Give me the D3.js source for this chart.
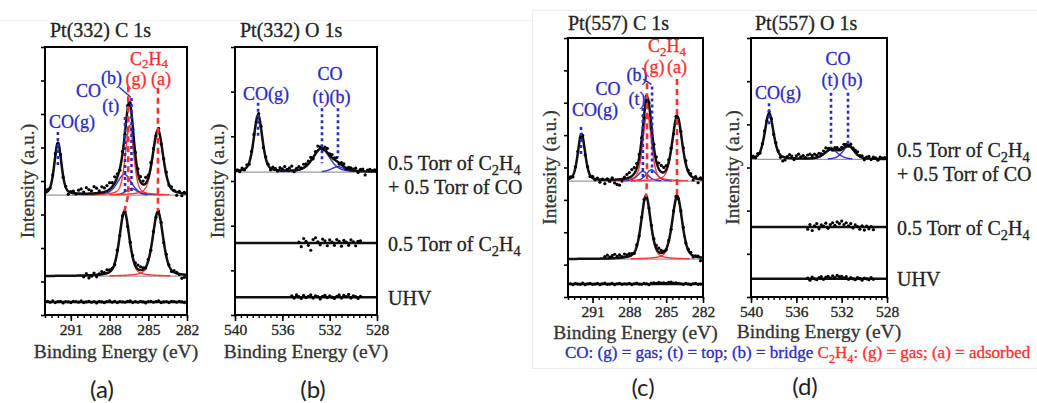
<!DOCTYPE html>
<html>
<head>
<meta charset="utf-8">
<script src="https://cdn.jsdelivr.net/npm/d3@7"></script>
<style>
  html, body { margin: 0; padding: 0; background: #fff; }
  svg { display: block; }
  svg text { font-family: "Liberation Serif", "Times New Roman", serif; stroke-width: 0.3px; paint-order: stroke; }
</style>
</head>
<body>
<svg id="fig" width="1037" height="403"></svg>
<script>
// ---------------- data ----------------
const titles = ["Pt(332) C 1s", "Pt(332) O 1s", "Pt(557) C 1s", "Pt(557) O 1s"];
const ticksC = [291, 288, 285, 282];
const ticksO = [540, 536, 532, 528];
const conditions = ["0.5 Torr of C_2H_4", "+ 0.5 Torr of CO", "0.5 Torr of C_2H_4", "UHV"];

// fitted components: [species, centre (eV), height (a.u.), FWHM (eV)]
const compA_top = [["CO(g)", 292.0, 1.55, 0.65], ["CO(t)", 286.85, 0.62, 1.3], ["CO(b)", 286.3, 0.2, 1.0],
                   ["C2H4(g)", 286.45, 2.08, 0.75], ["C2H4(a)", 284.25, 1.9, 0.95]];
const compA_mid = [["C2H4(g)", 286.85, 1.9, 0.9], ["C2H4(a)", 284.25, 1.9, 0.95]];
const compB_top = [["CO(g)", 538.05, 1.27, 0.85], ["CO(t)", 532.7, 0.52, 1.7], ["CO(b)", 531.3, 0.12, 1.3]];
const compC_top = [["CO(g)", 291.9, 1.45, 0.7], ["CO(t)", 286.9, 0.3, 1.0], ["CO(b)", 286.2, 0.35, 1.0],
                   ["C2H4(g)", 286.55, 2.1, 0.8], ["C2H4(a)", 284.1, 1.97, 0.95]];
const compC_mid = [["C2H4(g)", 286.65, 1.93, 0.9], ["C2H4(a)", 284.1, 1.93, 0.95]];
const compD_top = [["CO(g)", 538.4, 1.06, 0.9], ["CO(t)", 532.9, 0.22, 1.4], ["CO(b)", 531.4, 0.3, 1.2]];

// vertical offsets of the stacked spectra (top, middle, UHV)
const offsetsA = [3.58, 1.16, 0.39];
const offsetsB = [3.2, 1.61, 0.4];
const offsetsC = [3.58, 1.17, 0.4];
const offsetsD = [3.19, 1.62, 0.42];

// first binding energy of each acquired window (step 0.2 eV)
const windowC = [292.8, 290.0, 292.8];
const windowB = [539.8, 534.6, 535.2];
const windowD = [539.8, 535.0, 535.0];

// measured points, as deviation from the fit envelope (a.u.)
const resA_top = [0.05,-0.03,0.02,0.06,-0.04,0.03,-0.05,0.02,-0.09,0.03,
  0.06,-0.02,0.10,0.14,0.05,0.18,0.12,0.08,0.20,0.15,
  0.06,0.17,0.12,0.16,0.20,0.12,0.18,0.10,-0.05,0.08,
  -0.06,0.10,0.04,-0.08,0.06,0.12,0.15,0.10,0.18,0.08,
  0.12,0.05,-0.04,0.07,-0.05,0.04,0.08,-0.03,0.06,0.02,
  -0.10,0.04,-0.08,0.03];
const resA_mid = [-0.04,0.05,-0.08,-0.03,0.06,-0.06,0.02,0.08,0.04,0.10,
  0.06,0.03,-0.04,0.05,-0.03,0.04,0.02,-0.05,0.03,0.06,
  0.08,0.12,0.10,0.05,-0.03,0.04,-0.04,0.03,-0.02,0.04,
  0.05,-0.03,0.06,0.02,-0.04,0.05,0.03,-0.02,-0.12,-0.08];
const resA_uhv = [0.02,-0.01,0.03,-0.02,0.01,0.02,-0.03,0.01,0.0,-0.02,
  0.02,0.01,-0.01,0.03,-0.02,0.0,0.02,-0.01,0.01,-0.03,
  0.02,0.0,-0.02,0.01,0.03,-0.01,0.02,-0.02,0.01,0.0,
  -0.01,0.02,0.03,-0.02,0.01,-0.01,0.02,0.0,-0.03,0.01,
  0.02,-0.01,0.01,0.03,-0.02,0.0,0.01,-0.02,0.02,0.01,
  -0.01,0.02,0.0,-0.02];
const resB_top = [0.02,-0.03,0.04,-0.02,0.05,-0.04,0.03,0.06,-0.03,0.05,
  0.04,-0.05,0.03,0.02,-0.04,0.05,0.03,-0.02,0.06,0.04,
  0.09,0.03,0.06,0.10,-0.03,0.04,0.07,0.02,0.08,0.05,
  0.06,0.08,-0.03,0.05,0.10,0.04,-0.04,0.06,0.09,0.03,
  0.07,0.04,0.08,-0.03,0.05,0.06,-0.02,0.04,0.05,0.03,
  0.06,-0.03,0.04,0.05,-0.08,0.03,0.05,0.02,0.04];
const resB_mid = [0.02,-0.08,0.10,0.04,-0.05,-0.16,0.08,0.12,0.03,-0.04,
  0.09,0.05,-0.06,0.07,0.02,-0.05,0.08,0.04,-0.07,0.06,
  0.02,-0.05,0.07,0.03,-0.06,0.04,0.05];
const resB_uhv = [0.03,-0.02,0.05,0.01,-0.03,0.04,-0.01,0.02,0.05,-0.02,
  0.03,0.01,-0.04,0.02,0.04,-0.01,0.03,0.0,-0.03,0.02,
  0.05,-0.02,0.04,0.01,0.06,-0.02,0.03,0.01,-0.03,0.02];
const resC_top = [0.04,-0.05,0.03,0.05,-0.03,0.04,-0.06,0.03,-0.04,0.05,
  -0.03,0.04,-0.08,0.02,-0.12,0.03,-0.05,0.06,-0.10,-0.15,
  -0.18,-0.06,0.05,0.12,0.15,0.20,0.18,0.14,0.10,0.05,
  -0.05,0.08,0.05,-0.08,0.10,0.14,0.18,0.20,0.15,0.12,
  0.08,0.04,-0.05,0.06,-0.04,0.05,0.08,0.10,0.04,0.06,
  -0.08,0.05,-0.12,0.04];
const resC_mid = [0.06,0.10,0.04,0.08,0.12,0.05,0.09,0.03,0.10,0.06,
  0.08,0.04,-0.03,0.05,-0.02,0.03,0.05,-0.04,0.02,0.04,
  0.06,0.10,0.12,0.08,0.02,-0.03,0.04,-0.02,0.03,0.05,
  -0.03,0.04,0.06,-0.02,0.03,0.05,-0.04,0.02,0.03,-0.10];
const resC_uhv = [0.01,-0.02,0.02,0.0,-0.01,0.03,-0.02,0.01,0.02,-0.01,
  0.0,0.02,-0.02,0.01,0.03,-0.01,0.0,0.02,-0.02,0.01,
  0.02,-0.01,0.01,0.0,0.02,-0.02,0.01,0.03,0.0,-0.01,
  0.02,0.01,-0.02,0.03,0.04,0.02,0.05,0.03,0.04,0.02,
  0.05,0.06,0.03,0.04,0.02,0.01,-0.01,0.02,0.0,-0.02,
  0.01,0.02,-0.01,0.0];
const resD_top = [0.03,-0.02,0.04,-0.03,0.02,0.05,-0.02,0.04,0.03,-0.03,
  0.04,0.02,-0.05,-0.10,-0.06,0.03,0.08,0.05,-0.03,0.06,
  0.10,0.04,0.07,0.02,0.08,0.10,0.06,0.09,0.05,0.08,
  0.04,0.07,0.10,0.05,0.02,-0.03,0.04,0.06,0.02,0.05,
  0.08,0.04,-0.02,0.06,0.03,0.05,0.07,0.02,0.04,-0.04,
  0.03,0.05,-0.02,0.04,0.02,-0.03,0.04,0.02,0.03];
const resD_mid = [-0.05,0.06,-0.08,0.03,0.08,-0.04,0.05,0.02,0.09,-0.03,
  0.06,0.10,0.04,0.12,0.08,0.14,0.06,0.10,0.03,0.08,
  -0.02,0.05,0.01,-0.05,0.03,-0.07,0.02,-0.04,0.01,-0.06];
const resD_uhv = [0.02,-0.03,0.04,0.0,-0.02,0.03,0.05,-0.01,0.04,0.06,
  0.02,0.07,0.03,0.08,0.05,0.06,0.02,0.05,-0.01,0.03,
  0.0,-0.02,0.03,0.01,-0.03,0.02,0.0,-0.02,0.03,-0.01];

// ---------------- styling / layout ----------------
const SERIF = "'Liberation Serif', 'Times New Roman', serif";
const BLUE = "#2a2ac4", RED = "#ff2e2e";
const LOR = 0.4;          // Lorentzian share of the pseudo-Voigt line shape
const STEP = 0.2;         // acquisition step (eV)
const colourOf = s => s.startsWith("CO") ? BLUE : RED;

function pv(E, c, h, w) {
  const t = (E - c) / w;
  return h * ((1 - LOR) * Math.exp(-4 * Math.LN2 * t * t) + LOR / (1 + 4 * t * t));
}

const panels = [
  { title: titles[0], tx: 50, ty: 37, x0: 45, x1: 187, y0: 47, y1: 315, dom: [293, 282], ymax: 8,
    ticks: ticksC, yt: [27, 181], xtY: 358, letter: "(a)", lx: 102, ly: 398,
    spectra: [[compA_top, offsetsA[0], windowC[0], resA_top], [compA_mid, offsetsA[1], windowC[1], resA_mid],
              [[], offsetsA[2], windowC[2], resA_uhv]],
    labels: [["CO(g)", 290.91, 5.58, BLUE], ["CO", 289.62, 6.51, BLUE], ["(b)", 287.85, 6.9, BLUE],
             ["(t)", 287.9, 6.06, BLUE], ["C_2H_4", 284.94, 7.47, RED], ["(g)", 285.95, 6.88, RED], ["(a)", 284.01, 6.88, RED]],
    marks: [["dot", [[292.0, 5.46], [292.0, 4.39]]], ["dot", [[286.8, 5.91], [286.8, 3.67]]],
            ["dot", [[286.3, 6.48], [286.3, 3.61]]], ["link", [[287.25, 6.8], [286.35, 6.5]]],
            ["dash", [[286.55, 6.83], [286.55, 3.58], [286.85, 3.1]]], ["dash", [[284.25, 6.78], [284.25, 3.1]]]],
    side: null },
  { title: titles[1], tx: 240, ty: 37, x0: 235, x1: 377, y0: 47, y1: 315, dom: [540, 528], ymax: 6,
    ticks: ticksO, yt: [217.5, 181], xtY: 358, letter: "(b)", lx: 313, ly: 398,
    spectra: [[compB_top, offsetsB[0], windowB[0], resB_top], [[], offsetsB[1], windowB[1], resB_mid],
              [[], offsetsB[2], windowB[2], resB_uhv]],
    labels: [["CO(g)", 537.38, 4.81, BLUE], ["CO", 531.97, 5.27, BLUE], ["(t)", 532.73, 4.75, BLUE], ["(b)", 531.13, 4.75, BLUE]],
    marks: [["dot", [[538.05, 4.75], [538.05, 3.96]]], ["dot", [[532.65, 4.63], [532.65, 3.4]]],
            ["dot", [[531.3, 4.63], [531.3, 3.54]]]],
    side: 388 },
  { title: titles[2], tx: 568, ty: 30, x0: 568, x1: 703, y0: 38, y1: 297, dom: [293, 282], ymax: 8,
    ticks: ticksC, yt: [549, 167.5], xtY: 339, letter: "(c)", lx: 643, ly: 396,
    spectra: [[compC_top, offsetsC[0], windowC[0], resC_top], [compC_mid, offsetsC[1], windowC[1], resC_mid],
              [[], offsetsC[2], windowC[2], resC_uhv]],
    labels: [["CO(g)", 290.8, 5.59, BLUE], ["CO", 289.74, 6.24, BLUE], ["(b)", 287.38, 6.68, BLUE],
             ["(t)", 287.38, 5.93, BLUE], ["C_2H_4", 284.93, 7.56, RED], ["(g)", 286.0, 6.93, RED], ["(a)", 284.12, 6.93, RED]],
    marks: [["dot", [[291.94, 5.25], [291.94, 4.39]]], ["dot", [[286.9, 5.84], [286.9, 3.68]]],
            ["dot", [[286.15, 6.5], [286.15, 3.83]]], ["link", [[286.88, 6.73], [286.2, 6.57]]],
            ["dash", [[286.56, 6.6], [286.56, 3.58], [286.65, 3.09]]], ["dash", [[284.12, 6.73], [284.12, 3.15]]]],
    side: null },
  { title: titles[3], tx: 755, ty: 30, x0: 751, x1: 887, y0: 38, y1: 297, dom: [540, 528], ymax: 6,
    ticks: ticksO, yt: [732.5, 167.5], xtY: 338, letter: "(d)", lx: 805, ly: 395,
    spectra: [[compD_top, offsetsD[0], windowD[0], resD_top], [[], offsetsD[1], windowD[1], resD_mid],
              [[], offsetsD[2], windowD[2], resD_uhv]],
    labels: [["CO(g)", 537.62, 4.59, BLUE], ["CO", 532.32, 5.38, BLUE], ["(t)", 533.03, 4.89, BLUE], ["(b)", 531.09, 4.89, BLUE]],
    marks: [["dot", [[538.41, 4.49], [538.41, 3.94]]], ["dot", [[532.94, 4.73], [532.94, 3.45]]],
            ["dot", [[531.44, 4.73], [531.44, 3.52]]]],
    side: 897 }
];

const svg = d3.select("#fig");

// faint outlines of the two figure halves
svg.append("line").attr("x1", 0).attr("x2", 532).attr("y1", 20.5).attr("y2", 20.5)
  .attr("stroke", "#f0f0f0").attr("stroke-width", 1);
svg.append("rect").attr("x", 532.5).attr("y", 10.5).attr("width", 510).attr("height", 358)
  .attr("fill", "none").attr("stroke", "#ececec").attr("stroke-width", 1);

// text with "_n" subscripts
function rich(sel, str, size, drop = 0.28) {
  const parts = str.split(/(_\d)/).filter(s => s.length);
  const shift = size * drop;
  let down = false;
  parts.forEach(s => {
    if (s[0] === "_") {
      sel.append("tspan").attr("dy", down ? 0 : shift).attr("font-size", size * 0.72).text(s[1]);
      down = true;
    } else {
      sel.append("tspan").attr("dy", down ? -shift : 0).text(s);
      down = false;
    }
  });
  return sel;
}

function label(parent, fill) {
  return parent.append("text").style("font-family", SERIF).attr("fill", fill).attr("stroke", fill);
}

panels.forEach((p, pi) => {
  const x = d3.scaleLinear().domain(p.dom).range([p.x0, p.x1]);
  const y = d3.scaleLinear().domain([0, p.ymax]).range([p.y1, p.y0]);
  const g = svg.append("g");
  const clipId = "clip" + pi;
  svg.append("clipPath").attr("id", clipId).append("rect")
    .attr("x", p.x0).attr("y", p.y0).attr("width", p.x1 - p.x0).attr("height", p.y1 - p.y0);
  const plot = g.append("g").attr("clip-path", `url(#${clipId})`);
  const line = d3.line().x(d => x(d[0])).y(d => y(d[1]));
  const fine = d3.range(p.dom[0], p.dom[1] - 1e-9, -0.02);

  p.spectra.forEach(([comps, off, start, res]) => {
    const fit = E => off + d3.sum(comps, c => pv(E, c[1], c[2], c[3]));
    if (comps.length) {
      plot.append("line").attr("x1", p.x0).attr("x2", p.x1).attr("y1", y(off)).attr("y2", y(off))
        .attr("stroke", "#9a9a9a").attr("stroke-width", 1.2);
      comps.forEach(c => {
        const pts = fine.filter(E => pv(E, c[1], c[2], c[3]) > 0.012).map(E => [E, off + pv(E, c[1], c[2], c[3])]);
        plot.append("path").attr("d", line(pts)).attr("fill", "none")
          .attr("stroke", colourOf(c[0])).attr("stroke-width", 1.4).attr("opacity", 0.95);
      });
    }
    plot.append("path").attr("d", line(fine.map(E => [E, fit(E)]))).attr("fill", "none")
      .attr("stroke", "#111").attr("stroke-width", 2.5);
    plot.selectAll(null).data(res).enter().append("circle")
      .attr("cx", (r, i) => x(start - i * STEP))
      .attr("cy", (r, i) => y(fit(start - i * STEP) + r))
      .attr("r", 1.6).attr("fill", "#000");
  });

  // peak-position markers
  p.marks.forEach(([kind, pts]) => {
    const path = g.append("path").attr("d", line(pts)).attr("fill", "none");
    if (kind === "dot") path.attr("stroke", BLUE).attr("stroke-width", 2.6).attr("stroke-dasharray", "3,3");
    else if (kind === "dash") path.attr("stroke", RED).attr("stroke-width", 2.6).attr("stroke-dasharray", "6,4");
    else path.attr("stroke", BLUE).attr("stroke-width", 1.4);
  });

  // peak labels
  p.labels.forEach(([t, E, u, col]) => {
    rich(label(g, col).attr("x", x(E)).attr("y", y(u)).attr("text-anchor", "middle").attr("font-size", 18), t, 18, 0.2);
  });

  // axes
  const xa = g.append("g").attr("transform", `translate(0,${p.y1})`)
    .call(d3.axisBottom(x).tickValues(p.ticks).tickSize(6).tickPadding(3).tickFormat(d3.format("d")));
  xa.select(".domain").remove();
  xa.selectAll("text").style("font-family", SERIF).attr("font-size", 15.5).attr("fill", "#222").attr("stroke", "#222");
  xa.selectAll("line").attr("stroke-width", 1.6);
  const xm = g.append("g").attr("transform", `translate(0,${p.y1})`)
    .call(d3.axisBottom(x).tickValues(d3.range(Math.min(...p.dom), Math.max(...p.dom) + 0.01, 0.5)).tickSize(3).tickFormat(""));
  xm.select(".domain").remove();
  xm.selectAll("line").attr("stroke-width", 1.4);
  const ya = g.append("g").attr("transform", `translate(${p.x0},0)`)
    .call(d3.axisLeft(y).tickValues(d3.range(0, p.ymax + 1)).tickSize(4).tickFormat(""));
  ya.select(".domain").remove();
  ya.selectAll("line").attr("stroke-width", 1.6);
  g.append("rect").attr("x", p.x0).attr("y", p.y0).attr("width", p.x1 - p.x0).attr("height", p.y1 - p.y0)
    .attr("fill", "none").attr("stroke", "#000").attr("stroke-width", 2);

  // titles
  label(g, "#222").attr("x", p.tx).attr("y", p.ty).attr("font-size", 20).text(p.title);
  label(g, "#333").attr("x", (p.x0 + p.x1) / 2).attr("y", p.xtY).attr("text-anchor", "middle")
    .attr("font-size", 19.5).text("Binding Energy (eV)");
  label(g, "#333").attr("transform", `translate(${p.yt[0]},${p.yt[1]}) rotate(-90)`)
    .attr("text-anchor", "middle").attr("dominant-baseline", "central")
    .attr("font-size", 19.5).text("Intensity (a.u.)");
  g.append("text").attr("x", p.lx).attr("y", p.ly).attr("text-anchor", "middle")
    .style("font-family", "Lato, 'Liberation Sans', sans-serif").style("stroke-width", 0)
    .attr("font-size", 24).attr("fill", "#222").text(p.letter);

  // condition labels beside the O 1s panels
  if (p.side) {
    const rows = [[conditions[0], y(p.spectra[0][1]) - 9], [conditions[1], y(p.spectra[0][1]) + 15],
                  [conditions[2], y(p.spectra[1][1]) + 1], [conditions[3], y(p.spectra[2][1]) + 1]];
    rows.forEach(([t, yy]) => {
      rich(label(g, "#222").attr("x", p.side).attr("y", yy + 6.5).attr("font-size", 20), t, 20);
    });
  }
});

// key to the peak labels
const key = label(svg, "none").attr("x", 565).attr("y", 358).attr("font-size", 17).attr("stroke", null);
key.append("tspan").attr("fill", BLUE).attr("stroke", BLUE).text("CO: (g) = gas; (t) = top; (b) = bridge ");
rich(key.append("tspan").attr("fill", RED).attr("stroke", RED), "C_2H_4: (g) = gas; (a) = adsorbed", 17);
</script>
</body>
</html>
